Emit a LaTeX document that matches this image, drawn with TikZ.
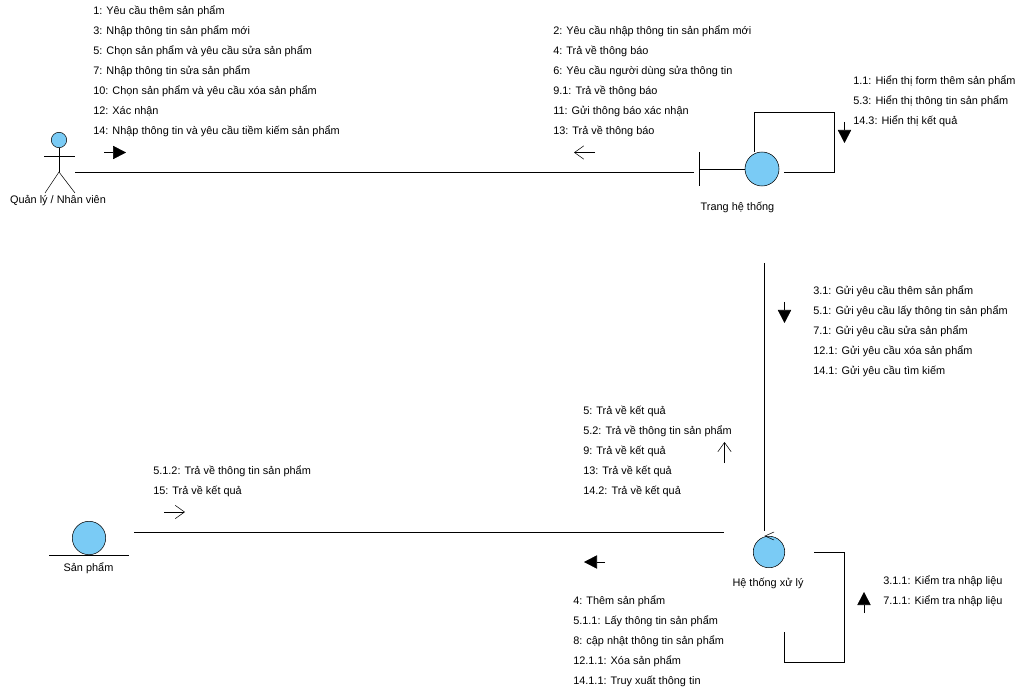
\documentclass[tikz,border=0pt]{standalone}
\usepackage{fontspec}
\setmainfont{Liberation Sans}
\usetikzlibrary{arrows.meta}
\definecolor{objblue}{HTML}{7ACBF5}
\tikzset{
  x=0.75pt,y=-0.75pt,
  line width=0.75pt,
  lbl/.style={anchor=north west,inner sep=0pt,align=left,font=\fontsize{8.18}{15}\selectfont},
  objcap/.style={anchor=base,inner sep=0pt,font=\fontsize{8.18}{10}\selectfont},
  obj/.style={circle,draw=black,fill=objblue,inner sep=0pt,minimum size=#1*0.75pt},
  filledarrow/.style={-{Triangle[length=9.75pt,width=10pt]}},
  openarrow/.style={-{Straight Barb[length=7pt,width=10pt]}},
}
\newcommand{\blk}[4]{\node[lbl] (#1) at (#2,{#3-9.33}) {\rule{0pt}{10pt}#4};}
\begin{document}
\begin{tikzpicture}
\useasboundingbox (0,0) rectangle (1031,691);
\fill[white] (0,0) rectangle (1031,691);

% Actor
\node[obj=15.4] (actorhead) at (59,140) {};
\coordinate (actorhip) at (59,172);
\coordinate (armL) at (44,156);
\coordinate (armR) at (75,156);
\coordinate (legL) at (45,193);
\coordinate (legR) at (75,193);
\draw (actorhead.south) -- (actorhip);
\draw (armL) -- (armR);
\draw (legL) -- (actorhip) -- (legR);
\node[objcap] (actorlabel) at (58,204) {Quản lý / Nhân viên};

% Boundary
\node[obj=34] (boundary) at (762,169) {};
\coordinate (barT) at (699,152);
\coordinate (barB) at (699,186);
\coordinate (barM) at (699,169);
\draw (barT) -- (barB);
\draw (barM) -- (boundary.west);
\node[objcap] (boundarylabel) at (737.5,211) {Trang hệ thống};

% Control
\node[obj=31.5] (control) at (769,552) {};
\coordinate (ctrlA) at (774,532);
\coordinate (ctrlB) at (765,536);
\coordinate (ctrlC) at (774,540);
\draw (ctrlA) -- (ctrlB) -- (ctrlC);
\node[objcap] (controllabel) at (768,586) {Hệ thống xử lý};

% Entity
\node[obj=33.4] (entity) at (89,538) {};
\coordinate (entL) at (49,555);
\coordinate (entR) at (129,555);
\draw (entL) -- (entR);
\node[objcap] (entitylabel) at (88.5,571) {Sản phẩm};

% Connectors
\coordinate (c1a) at (75,172);
\coordinate (c1b) at (694,172);
\draw (c1a) -- (c1b);

\coordinate (c2a) at (764.5,263);
\coordinate (c2b) at (764.5,531);
\draw (c2a) -- (c2b);

\coordinate (c3a) at (134,532);
\coordinate (c3b) at (724,532);
\draw (c3a) -- (c3b);

\coordinate (l1a) at (754,152);
\coordinate (l1b) at (784,172);
\draw (l1a) |- (834.5,112) |- (l1b);

\coordinate (l2a) at (814,552);
\coordinate (l2b) at (784,632);
\draw (l2a) -| (844,662) -| (l2b);

% Direction arrows
\coordinate (a1s) at (104,152.5); \coordinate (a1e) at (126,152.5);
\draw[filledarrow] (a1s) -- (a1e);
\coordinate (a2s) at (595,152.5); \coordinate (a2e) at (574,152.5);
\draw[openarrow] (a2s) -- (a2e);
\coordinate (a3s) at (844.5,122); \coordinate (a3e) at (844.5,143);
\draw[filledarrow] (a3s) -- (a3e);
\coordinate (a4s) at (784.5,302); \coordinate (a4e) at (784.5,323);
\draw[filledarrow] (a4s) -- (a4e);
\coordinate (a5s) at (724.5,463); \coordinate (a5e) at (724.5,442);
\draw[openarrow] (a5s) -- (a5e);
\coordinate (a6s) at (164,512); \coordinate (a6e) at (185,512);
\draw[openarrow] (a6s) -- (a6e);
\coordinate (a7s) at (605,562); \coordinate (a7e) at (584,562);
\draw[filledarrow] (a7s) -- (a7e);
\coordinate (a8s) at (864,613); \coordinate (a8e) at (864,592);
\draw[filledarrow] (a8s) -- (a8e);

% Message labels
\blk{m1}{93}{10}{1: Yêu cầu thêm sản phẩm\\3: Nhập thông tin sản phẩm mới\\5: Chọn sản phẩm và yêu cầu sửa sản phẩm\\7: Nhập thông tin sửa sản phẩm\\10: Chọn sản phẩm và yêu cầu xóa sản phẩm\\12: Xác nhận\\14: Nhập thông tin và yêu cầu tiềm kiếm sản phẩm}
\blk{m2}{553}{30}{2: Yêu cầu nhập thông tin sản phẩm mới\\4: Trả về thông báo\\6: Yêu cầu người dùng sửa thông tin\\9.1: Trả về thông báo\\11: Gửi thông báo xác nhận\\13: Trả về thông báo}
\blk{m3}{853}{80}{1.1: Hiển thị form thêm sản phẩm\\5.3: Hiển thị thông tin sản phẩm\\14.3: Hiển thị kết quả}
\blk{m4}{813}{290}{3.1: Gửi yêu cầu thêm sản phẩm\\5.1: Gửi yêu cầu lấy thông tin sản phẩm\\7.1: Gửi yêu cầu sửa sản phẩm\\12.1: Gửi yêu cầu xóa sản phẩm\\14.1: Gửi yêu cầu tìm kiếm}
\blk{m5}{583}{410}{5: Trả về kết quả\\5.2: Trả về thông tin sản phẩm\\9: Trả về kết quả\\13: Trả về kết quả\\14.2: Trả về kết quả}
\blk{m6}{153}{470}{5.1.2: Trả về thông tin sản phẩm\\15: Trả về kết quả}
\blk{m7}{573}{600}{4: Thêm sản phẩm\\5.1.1: Lấy thông tin sản phẩm\\8: cập nhật thông tin sản phẩm\\12.1.1: Xóa sản phẩm\\14.1.1: Truy xuất thông tin}
\blk{m8}{883}{580}{3.1.1: Kiểm tra nhập liệu\\7.1.1: Kiểm tra nhập liệu}
\end{tikzpicture}
\end{document}
